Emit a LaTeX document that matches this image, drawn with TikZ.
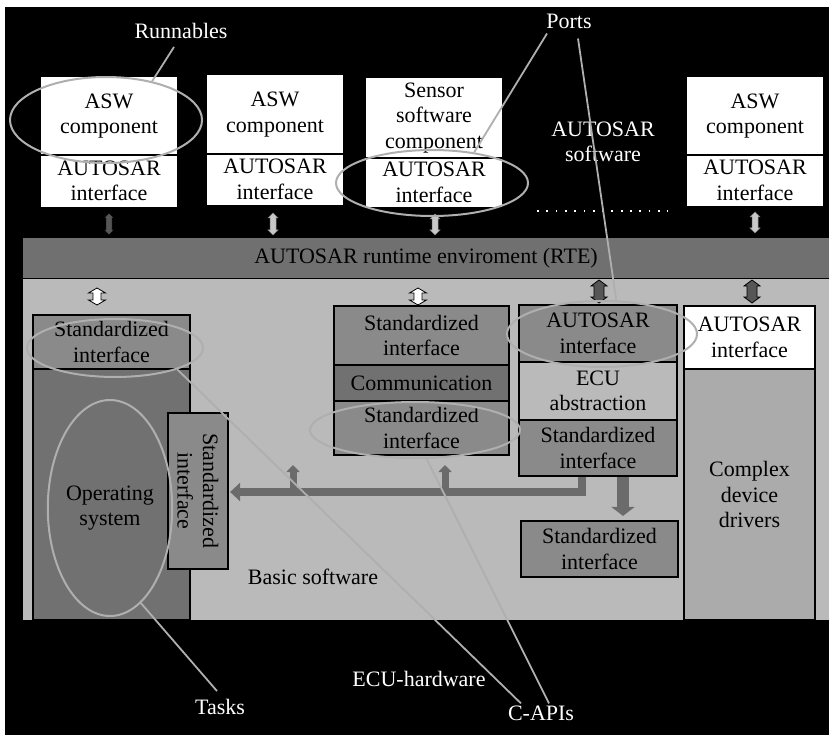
\documentclass[tikz,border=0pt]{standalone}
\usepackage{fontspec}
\setmainfont{Liberation Serif}
\usetikzlibrary{shapes.geometric,arrows.meta}
\definecolor{rtegray}{HTML}{707070}
\definecolor{bswgray}{HTML}{BABABA}
\definecolor{midgray}{HTML}{8A8A8A}
\definecolor{dkgray}{HTML}{717171}
\definecolor{cddgray}{HTML}{ABABAB}
\definecolor{arrowgray}{HTML}{6B6B6B}
\definecolor{callgray}{HTML}{AFAFAF}
\definecolor{darkarrow}{HTML}{565656}
\definecolor{lightarrow}{HTML}{C8C8C8}
\newcommand{\dblarrow}[7][]{%
 \draw[#1] (#2,#3) -- ({#2+#6},{#3+#7}) -- ({#2+#5},{#3+#7}) -- ({#2+#5},{#4-#7}) -- ({#2+#6},{#4-#7}) -- (#2,#4) -- ({#2-#6},{#4-#7}) -- ({#2-#5},{#4-#7}) -- ({#2-#5},{#3+#7}) -- ({#2-#6},{#3+#7}) -- cycle;}
\newcommand{\fsz}{\fontsize{22}{25.5}\selectfont}
\begin{document}
\begin{tikzpicture}[x=1pt,y=-1pt,
  every node/.style={font=\fsz, align=center, inner sep=0pt},
  wcell/.style={fill=white, minimum width=136pt},
  cell/.style={draw=black, line width=2.2pt},
  ell/.style={ellipse, draw=callgray, line width=2pt},
  call/.style={draw=callgray, line width=1.8pt},
  lab/.style={text=white, inner sep=2pt},
  thickarr/.style={draw=arrowgray, line width=8pt, line join=miter, -{Triangle[length=10pt,width=18pt]}},
  brarr/.style={draw=arrowgray, line width=7pt, -{Triangle[length=7pt,width=13pt]}},
  downarr/.style={draw=arrowgray, line width=12pt, -{Triangle[length=9pt,width=23pt]}}
]
\useasboundingbox (0,0) rectangle (829,735);
\fill[white] (0,0) rectangle (829,735);
\fill[black] (5,7) rectangle (829,735);

% top application software components
\node[wcell, minimum height=78pt] (a1) at (109,116) {ASW\\component};
\node[wcell, minimum height=52pt] (i1) at (109,181) {AUTOSAR\\interface};
\node[wcell, minimum height=79pt] (a2) at (275,114.5) {ASW\\component};
\node[wcell, minimum height=51pt] (i2) at (275,179.5) {AUTOSAR\\interface};
\node[wcell, minimum height=80pt] (a3) at (434,118) {Sensor\\software\\component};
\node[wcell, minimum height=49pt] (i3) at (434,182.5) {AUTOSAR\\interface};
\node[wcell, minimum height=78pt] (a4) at (755,116) {ASW\\component};
\node[wcell, minimum height=51pt] (i4) at (755,180.5) {AUTOSAR\\interface};
\foreach \n in {1,2,3,4} \draw[black, line width=1.5pt] (i\n.north west) -- (i\n.north east);

\node[lab] (asw) at (603,142) {AUTOSAR\\software};
\draw[white, line width=1.8pt, dash pattern=on 1.8pt off 7.5pt] (537,211) -- (668,211);

% RTE and BSW
\node[fill=rtegray, minimum width=806pt, minimum height=40pt] (rte) at (426,258) {AUTOSAR runtime enviroment (RTE)};
\node[fill=bswgray, minimum width=806pt, minimum height=342pt] (bsw) at (426,449) {};
\draw[black, line width=1pt] (rte.south west) -- (rte.south east);
\node (basic) at (313,577) {Basic software};

% top double arrows
\dblarrow[fill=darkarrow]{109}{213}{235}{3}{5}{5}
\dblarrow[fill=lightarrow, draw=gray, line width=0.5pt]{273}{213}{235}{3}{5}{5}
\dblarrow[fill=lightarrow, draw=gray, line width=0.5pt]{435}{214}{235}{3}{5}{5}
\dblarrow[fill=lightarrow, draw=gray, line width=0.5pt]{755}{212}{233}{3}{5}{5}

% BSW double arrows
\dblarrow[fill=white, draw=black, line width=0.8pt]{97}{288}{305}{4}{8.5}{5}
\dblarrow[fill=white, draw=black, line width=0.8pt]{418}{288}{305}{4}{8.5}{5}
\dblarrow[fill=darkarrow, draw=black, line width=0.8pt]{599}{280}{303}{5}{8}{6}
\dblarrow[fill=darkarrow, draw=black, line width=0.8pt]{752}{280}{303}{5}{8}{6}

% operating system column
\node[cell, fill=midgray, minimum width=157pt, minimum height=54pt] (lstd) at (111.5,342) {Standardized\\interface};
\node[cell, fill=dkgray, minimum width=157pt, minimum height=251pt] (os) at (111.5,494.5) {};
\node[cell, fill=midgray, minimum width=156pt, minimum height=60pt, rotate=-90] (vstd) at (198,491) {Standardized\\interface};

% communication column
\node[cell, fill=midgray, minimum width=175pt, minimum height=59pt] (m1) at (421.5,335.5) {Standardized\\interface};
\node[cell, fill=dkgray, minimum width=175pt, minimum height=36pt] (m2) at (421.5,383) {Communication};
\node[cell, fill=midgray, minimum width=175pt, minimum height=54pt] (m3) at (421.5,428) {Standardized\\interface};

% ECU abstraction column
\node[cell, fill=midgray, minimum width=158pt, minimum height=57pt] (e1) at (598,333.5) {AUTOSAR\\interface};
\node[cell, fill=bswgray, minimum width=158pt, minimum height=58pt] (e2) at (598,391) {ECU\\abstraction};
\node[cell, fill=midgray, minimum width=158pt, minimum height=56pt] (e3) at (598,448) {Standardized\\interface};

% complex device drivers
\node[cell, fill=white, minimum width=131pt, minimum height=63pt] (c1) at (749.5,337.5) {AUTOSAR\\interface};
\node[cell, fill=cddgray, minimum width=131pt, minimum height=251pt] (c2) at (749.5,494.5) {Complex\\device\\drivers};

% lower standardized interface
\node[cell, fill=midgray, minimum width=157pt, minimum height=56pt] (bstd) at (599.5,549) {Standardized\\interface};

% internal BSW arrows
\coordinate (hj) at (582,492);
\coordinate (b1) at (293,492);
\coordinate (b1t) at (293,465);
\coordinate (b2) at (445,492);
\coordinate (b2t) at (445,465);
\draw[thickarr] (e3.south -| hj) -- (hj) -- ([xshift=1pt]hj -| vstd.north);
\draw[brarr] (b1) -- (b1t);
\draw[brarr] (b2) -- (b2t);
\draw[downarr] ([xshift=25pt]e3.south) -- ([xshift=23.5pt,yshift=4pt]bstd.north);

% ellipses
\node[ell, minimum width=192pt, minimum height=86pt] (eRun) at (106,120) {};
\node[ell, minimum width=192pt, minimum height=66pt] (ePort) at (432,183) {};
\node[ell, minimum width=176pt, minimum height=58pt] (eL) at (115,348) {};
\node[ell, minimum width=116pt, minimum height=216pt] (eOS) at (110,508) {Operating\\system};
\node[ell, minimum width=210pt, minimum height=56pt] (eMid) at (415,430) {};
\node[ell, minimum width=190pt, minimum height=66pt] (eECU) at (602,334) {};

% labels and callouts
\node[lab] (run) at (181,31) {Runnables};
\node[lab] (ports) at (569,21) {Ports};
\node[lab] (tasks) at (220,707) {Tasks};
\node[lab] (hw) at (419,679) {ECU-hardware};
\node[lab] (capi) at (541,713) {C-APIs};

\draw[call] ([xshift=-7pt,yshift=-6pt]run.south) -- (eRun.40);
\draw[call] ([xshift=-22pt,yshift=-3pt]ports.south) -- (ePort.36);
\draw[call] ([xshift=9pt,yshift=-8pt]ports.south) -- (eECU.67);
\draw[call] ([xshift=-3pt,yshift=6pt]tasks.north) -- (eOS.-72);
\draw[call] ([xshift=-20pt]capi.north) -- (eL.-19);
\draw[call] ([xshift=8pt]capi.north) -- (eMid.-68);
\end{tikzpicture}
\end{document}
